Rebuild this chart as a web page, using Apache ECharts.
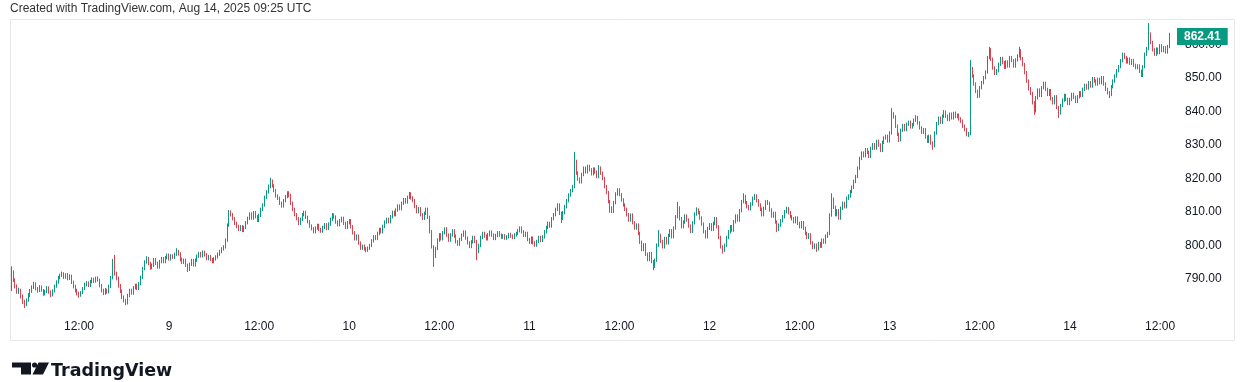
<!DOCTYPE html>
<html>
<head>
<meta charset="utf-8">
<script src="https://cdn.jsdelivr.net/npm/echarts@6/dist/echarts.min.js"></script>
<style>
html,body{margin:0;padding:0;background:#fff;}
#chart{width:1244px;height:382px;}
</style>
</head>
<body>
<div id="chart"></div>
<script>
// ---- data (15-minute candles, Aug 8 03:00 -> Aug 14 13:15, chart time) ----
const firstOpen = 786.5;
const closes = [
791.5,789.0,787.2,785.5,786.0,784.2,782.5,781.8,783.0,784.6,
785.8,786.9,788.0,786.6,785.9,787.1,786.0,784.9,785.7,786.8,
785.5,784.6,785.8,787.2,788.5,789.8,790.4,791.0,789.9,790.6,
789.5,790.3,788.4,787.2,786.0,785.1,784.6,785.3,786.5,787.8,
788.2,787.5,788.6,789.3,788.8,789.6,789.1,787.4,786.0,785.2,
786.1,785.6,787.2,789.8,794.8,791.0,789.6,787.4,785.8,784.0,
783.0,782.4,784.5,786.0,785.2,786.8,787.5,786.6,788.0,789.9,
792.5,794.5,795.6,794.0,792.8,793.5,795.2,794.1,793.0,794.6,
795.5,794.6,795.8,796.5,795.4,796.3,795.9,796.8,797.6,796.9,
795.2,794.4,795.0,793.5,792.3,793.8,794.9,793.6,795.0,796.2,
797.0,796.3,797.4,796.6,795.5,796.1,795.2,794.6,795.4,796.0,
796.8,797.6,798.4,799.0,801.0,805.5,809.4,808.6,807.4,806.0,
805.1,804.2,805.0,803.9,804.8,806.2,807.5,808.8,807.6,809.2,
808.0,806.9,808.4,810.2,811.5,813.8,815.4,817.0,818.6,817.2,
815.8,814.2,813.5,812.0,811.2,812.8,814.0,815.1,814.3,812.0,
810.2,808.6,807.4,806.0,807.2,808.6,809.3,807.8,806.5,805.2,
804.4,803.5,804.6,805.4,804.2,803.7,804.8,805.6,804.5,805.8,
807.2,808.5,807.9,806.4,805.6,806.8,807.5,806.0,804.8,806.2,
806.8,805.0,803.2,801.4,802.2,800.1,798.6,799.2,798.4,797.9,
798.6,799.4,800.8,802.0,801.5,803.0,804.2,803.5,805.1,806.4,
807.2,806.5,808.0,809.3,808.6,810.0,811.2,810.4,812.0,813.1,
812.4,813.8,815.0,813.6,812.8,811.0,809.5,810.4,808.6,807.5,
809.0,810.2,807.8,803.5,799.0,796.2,798.5,801.0,802.6,801.4,
803.2,804.4,802.5,801.0,802.6,803.8,802.2,800.5,799.8,801.2,
802.5,803.4,801.6,800.2,799.1,800.5,801.8,800.6,797.6,799.4,
801.8,803.0,802.2,801.4,802.6,803.4,802.5,801.5,802.4,803.2,
802.5,801.9,802.3,801.6,802.0,802.7,802.2,801.8,802.6,803.0,
803.8,804.6,803.5,802.4,803.0,801.2,800.4,801.6,800.2,799.5,
800.6,801.8,800.9,802.0,803.5,804.8,806.0,805.2,807.4,808.6,
810.2,811.5,809.0,807.5,809.2,811.0,812.8,814.5,815.8,817.0,
824.5,821.0,819.2,818.4,820.6,822.5,821.4,823.0,822.0,820.8,
822.2,821.3,820.0,822.5,821.0,819.4,817.0,815.2,812.5,810.6,
809.6,812.2,814.8,816.0,814.6,813.0,811.5,810.2,808.6,807.0,
808.5,806.2,804.6,805.5,803.0,800.4,798.2,799.6,796.8,795.2,
797.0,794.6,793.2,795.0,799.5,802.4,800.6,799.0,801.5,800.2,
802.4,803.8,802.0,804.6,808.0,810.6,807.4,805.0,806.4,808.2,
807.0,805.2,803.6,806.2,808.8,810.0,809.2,807.6,805.8,803.5,
802.0,804.5,805.6,804.2,806.0,807.4,805.0,801.8,799.0,798.0,
799.5,801.8,803.5,805.0,804.0,806.5,808.2,807.0,809.8,812.5,
814.0,812.2,811.0,810.4,811.8,813.5,814.2,812.8,811.5,810.2,
808.6,810.5,812.4,812.0,810.0,808.2,809.0,806.4,804.2,805.5,
806.8,808.0,809.5,810.4,809.2,808.0,807.4,806.5,807.6,806.0,
805.0,806.2,804.5,803.0,801.8,802.6,800.2,798.8,799.5,798.4,
800.0,799.2,801.0,800.4,802.2,803.0,808.5,813.2,810.8,808.6,
809.8,807.6,810.5,812.0,811.0,813.5,814.2,815.5,816.8,818.5,
820.0,822.5,825.4,827.0,826.2,828.0,827.2,826.0,828.4,829.5,
828.5,830.5,829.4,827.8,830.2,831.5,832.0,830.6,833.0,838.5,
837.8,835.0,832.6,831.0,833.8,835.2,834.0,835.6,836.2,834.8,
835.5,836.8,837.6,836.0,834.5,833.2,834.0,831.8,830.5,832.0,
830.0,829.2,833.0,835.8,837.4,836.2,838.0,839.2,838.0,837.0,
838.6,837.5,838.8,837.9,838.3,837.2,836.5,835.0,834.0,832.5,
832.8,852.2,850.0,847.6,845.4,844.0,846.5,848.0,849.5,851.2,
855.5,857.8,855.0,852.4,850.8,851.6,853.5,855.2,854.0,852.6,
854.2,853.0,855.5,854.6,853.0,854.8,856.0,857.5,855.2,853.4,
851.0,848.5,846.2,844.8,842.0,839.6,843.5,845.8,844.2,846.5,
847.8,846.0,844.5,845.6,843.2,842.0,843.8,840.6,839.0,841.2,
842.8,844.2,843.0,841.8,843.0,844.5,843.6,842.4,843.8,845.0,
844.2,846.0,847.2,846.4,848.0,847.0,849.2,848.5,847.6,849.0,
848.0,849.5,847.6,846.0,845.0,844.5,846.8,848.5,850.0,851.6,
852.8,854.6,856.4,855.5,854.2,855.0,853.8,854.6,853.2,852.5,
853.0,851.4,850.2,852.8,856.5,858.2,862.5,860.0,857.8,856.5,
858.0,857.0,859.0,857.6,858.4,857.2,858.8,862.41
];
const highs = [
793.2,792.0,789.6,787.8,786.8,786.5,784.8,783.2,783.6,785.2,
786.4,787.5,788.6,788.4,787.0,787.6,787.5,786.4,786.2,787.3,
787.2,786.0,786.3,787.7,789.0,790.3,791.0,791.6,791.4,791.1,
791.2,790.8,790.7,788.9,787.7,786.5,785.6,785.8,787.0,788.3,
788.8,788.7,789.1,789.9,789.8,790.1,790.2,789.5,787.9,786.5,
786.7,786.5,787.7,790.3,795.4,796.6,791.6,790.1,787.9,786.3,
784.5,783.5,785.0,786.5,786.5,787.3,788.0,788.0,788.5,790.4,
793.0,795.0,796.2,796.0,794.5,794.0,795.7,795.7,794.6,795.1,
796.0,796.0,796.3,797.0,797.0,796.8,796.8,797.3,798.6,798.1,
797.4,795.8,795.5,795.5,794.0,794.3,795.4,795.4,795.5,796.7,
797.5,797.5,797.9,797.9,797.1,796.6,796.6,795.7,795.9,796.5,
797.3,798.1,798.9,799.5,801.5,806.0,810.0,809.9,809.1,807.9,
806.5,805.6,805.5,805.5,805.3,806.7,808.0,809.3,809.3,809.7,
809.7,808.5,808.9,810.7,812.0,814.3,815.9,817.6,819.6,819.1,
817.7,816.3,814.7,814.0,812.5,813.3,814.5,815.6,815.6,814.8,
812.5,810.7,809.1,807.9,807.7,809.1,809.8,809.8,808.3,807.0,
805.7,804.9,805.1,805.9,805.9,804.7,805.3,806.1,806.1,806.3,
807.7,809.1,809.0,808.4,806.9,807.3,808.0,808.0,806.5,806.7,
807.3,807.3,805.5,803.7,802.7,802.7,800.6,799.7,799.7,798.9,
799.1,799.9,801.3,802.5,802.5,803.5,804.7,804.7,805.6,806.9,
807.7,807.7,808.5,809.8,809.8,810.5,811.7,811.7,812.5,813.6,
813.6,814.3,815.4,815.3,814.1,813.3,811.5,810.9,810.9,809.1,
809.5,810.7,810.7,808.3,804.0,799.5,799.0,801.5,803.1,803.1,
803.7,804.8,804.9,803.0,803.1,804.3,804.3,802.7,801.0,801.7,
803.0,803.9,803.9,802.1,800.7,801.0,802.3,802.3,801.1,799.9,
802.3,803.5,803.5,802.7,803.1,803.9,803.9,803.0,802.9,803.7,
803.7,803.0,802.8,802.8,802.5,803.2,803.2,802.7,803.1,803.5,
804.3,805.1,805.1,804.0,803.5,803.5,801.7,802.1,802.1,800.7,
801.1,802.3,802.3,802.5,804.0,805.3,806.5,806.5,807.9,809.1,
810.7,812.0,812.0,809.5,809.7,811.5,813.3,815.0,816.3,817.5,
827.3,825.0,821.5,819.7,821.1,823.0,823.0,823.5,823.5,822.5,
822.7,822.7,821.8,823.4,823.0,821.5,819.9,817.5,815.7,813.0,
811.1,812.7,815.3,816.5,816.5,815.1,813.5,812.0,810.7,809.1,
809.0,809.0,806.7,806.0,806.0,803.5,800.9,800.1,800.1,797.3,
797.5,797.5,795.1,795.5,800.0,804.0,802.9,801.1,802.0,802.0,
802.9,804.3,804.3,805.1,808.5,812.4,811.1,807.9,806.9,808.7,
808.7,807.5,805.7,806.7,809.3,810.8,810.5,809.7,808.1,806.3,
804.0,805.0,806.1,806.1,806.5,807.9,807.9,805.5,802.3,799.5,
800.0,802.3,804.0,805.5,805.5,807.0,808.7,808.7,810.3,813.0,
815.0,814.5,812.7,811.5,812.3,814.0,814.8,814.7,813.3,812.0,
810.7,811.0,812.9,813.0,812.5,810.5,809.5,809.5,806.9,806.0,
807.3,808.5,810.0,811.0,810.9,809.7,808.5,807.9,808.1,808.1,
806.5,806.7,806.7,805.0,803.5,803.1,803.1,800.7,800.0,800.0,
800.5,800.5,801.5,801.5,802.7,803.5,809.0,815.0,813.7,811.3,
810.3,810.3,811.0,812.5,812.5,814.0,814.7,816.0,817.3,819.0,
820.5,823.0,825.9,827.5,827.5,828.5,828.5,827.7,828.9,830.0,
830.0,831.0,831.0,829.9,830.7,832.0,832.5,832.5,833.5,840.4,
839.2,838.3,835.5,833.1,834.3,835.7,835.7,836.1,836.7,836.7,
836.0,837.3,838.3,838.1,836.5,835.0,834.5,834.5,832.3,832.5,
832.5,830.5,833.5,836.3,837.9,837.9,838.5,839.8,839.7,838.5,
839.1,839.1,839.3,839.4,838.8,838.8,837.7,837.0,835.5,834.5,
833.3,854.8,852.7,850.5,848.1,845.9,847.0,848.5,850.0,851.7,
856.0,858.7,858.3,855.5,852.9,852.1,854.0,855.7,855.7,854.5,
854.7,854.7,856.0,856.0,855.1,855.3,856.5,858.7,858.0,855.7,
853.9,851.5,849.0,846.7,845.3,842.5,844.0,846.3,846.3,847.0,
848.3,848.3,846.5,846.1,846.1,843.7,844.3,844.3,841.1,841.7,
843.3,844.7,844.7,843.5,843.5,845.0,845.0,844.1,844.3,845.5,
845.5,846.5,847.7,847.7,848.5,848.5,849.7,849.7,849.0,849.5,
849.5,850.0,850.0,848.1,846.5,845.5,847.3,849.0,850.5,852.1,
853.3,855.1,857.0,856.9,856.0,855.5,855.5,855.1,855.1,853.7,
853.5,853.5,851.9,853.3,857.0,858.7,865.8,863.0,860.5,858.3,
858.5,858.5,859.5,859.5,858.9,858.9,859.3,862.9
];
const lows = [
785.8,788.5,786.6,785.0,784.9,783.6,781.9,780.7,781.3,782.6,
784.0,785.3,786.4,786.0,785.3,785.5,785.6,784.4,784.5,785.2,
785.0,784.0,784.2,785.4,786.8,788.0,789.3,790.0,789.4,789.5,
789.0,789.1,787.9,786.6,785.4,784.5,783.8,784.1,784.9,786.1,
787.2,787.0,787.0,788.1,788.2,788.3,788.6,786.9,785.4,784.6,
784.7,785.0,785.1,786.7,789.3,790.4,789.0,786.8,785.2,783.4,
782.4,781.6,781.8,784.0,784.7,784.7,786.3,786.1,786.1,787.5,
789.4,792.0,794.0,793.5,792.2,792.3,793.0,793.6,792.5,792.5,
794.1,794.1,794.1,795.3,794.9,794.9,795.4,795.4,796.3,796.4,
794.7,793.9,793.9,793.0,791.5,791.8,793.3,793.1,793.1,794.5,
795.7,795.8,795.8,796.1,795.0,795.0,794.7,794.1,794.1,794.9,
795.5,796.3,797.1,797.9,798.5,800.5,805.0,808.1,806.9,805.5,
804.6,803.7,803.7,803.4,803.4,804.3,805.7,807.0,807.1,807.1,
807.5,806.4,806.4,807.9,809.7,811.0,813.3,814.9,816.5,816.7,
815.3,813.7,813.0,811.5,810.7,810.7,812.3,813.5,813.8,811.5,
809.7,808.1,806.9,805.5,805.5,806.7,808.1,807.3,806.0,804.7,
803.9,803.0,803.0,804.1,803.7,803.2,803.2,804.3,804.0,804.0,
805.3,806.7,807.4,805.9,805.1,805.1,806.3,805.5,804.3,804.3,
805.7,804.5,802.7,800.9,800.9,799.6,798.1,798.1,797.9,797.4,
797.5,798.1,798.9,800.3,801.0,801.0,802.5,803.0,803.0,804.6,
805.9,806.0,806.0,807.5,808.1,808.1,809.5,809.9,809.9,811.5,
811.9,811.9,813.3,813.1,812.3,810.5,809.0,809.0,808.1,807.0,
807.0,808.5,807.3,803.0,798.5,793.0,795.7,798.0,800.5,800.9,
800.9,802.7,802.0,800.5,800.5,802.1,801.7,800.0,799.3,799.3,
800.7,802.0,801.1,799.7,798.6,798.6,800.0,800.1,795.0,797.1,
798.9,801.3,801.7,800.9,800.9,802.1,802.0,801.0,801.0,801.9,
802.0,801.4,801.4,801.1,801.1,801.5,801.7,801.3,801.3,802.1,
802.5,803.3,803.0,801.9,801.9,800.7,799.9,799.9,799.7,799.0,
799.0,800.1,800.4,800.4,801.5,803.0,804.3,804.7,804.7,806.9,
808.1,809.7,808.5,806.1,807.0,808.7,810.5,812.3,814.0,815.3,
816.5,820.5,818.7,817.9,817.9,820.1,820.9,820.9,821.5,820.3,
820.3,820.8,819.5,819.5,820.5,818.9,816.5,814.7,812.0,809.2,
809.1,809.1,811.7,814.3,814.1,812.5,811.0,809.7,808.1,806.5,
806.5,805.7,804.1,804.1,802.5,799.9,797.7,797.7,796.3,794.7,
794.7,794.1,792.0,792.7,794.5,799.0,800.1,798.5,798.5,799.7,
799.7,801.9,801.5,801.5,804.1,807.5,806.9,804.5,804.5,805.9,
806.5,804.7,803.1,803.1,805.7,808.3,808.7,807.1,805.3,803.0,
801.5,801.5,804.0,803.7,803.7,805.5,804.5,801.3,798.5,797.0,
797.5,799.0,801.3,803.0,803.5,803.5,806.0,806.5,806.5,809.3,
812.0,811.7,810.5,809.9,809.9,811.3,813.0,812.3,811.0,809.7,
808.1,808.1,810.0,811.5,809.5,807.7,807.7,805.9,803.4,803.7,
805.0,806.3,807.5,809.0,808.7,807.5,806.9,806.0,806.0,805.5,
804.5,804.5,804.0,802.5,801.3,801.3,799.7,798.3,798.3,797.5,
797.9,798.7,798.7,799.9,799.9,801.7,802.5,808.0,810.3,808.1,
808.1,807.1,807.1,810.0,810.5,810.5,813.0,813.7,815.0,816.3,
818.0,819.5,822.0,824.9,825.7,825.7,826.7,825.5,825.5,827.9,
828.0,828.0,828.9,827.3,827.3,829.7,831.0,830.1,830.1,832.5,
837.3,834.5,832.1,830.3,830.5,833.3,833.5,833.5,835.1,834.3,
834.3,835.0,836.3,835.5,834.0,832.7,832.7,831.3,830.0,830.0,
829.5,828.0,828.7,832.5,835.3,835.7,835.7,837.5,837.5,836.5,
836.5,837.0,837.0,837.4,837.4,836.7,836.0,834.5,833.5,832.0,
831.8,832.3,849.5,847.1,844.9,843.4,843.5,846.0,847.5,849.0,
850.7,855.0,854.5,851.9,850.3,850.3,851.1,853.0,853.5,852.1,
852.1,852.5,852.5,854.1,852.5,852.5,854.3,855.5,854.7,852.9,
850.5,848.0,845.7,844.3,841.5,838.4,839.1,843.0,843.7,843.7,
846.0,845.5,844.0,844.0,842.7,841.5,841.5,840.1,837.5,838.5,
840.7,842.3,842.5,841.3,841.3,842.5,843.1,841.9,841.9,843.3,
843.7,843.7,845.5,845.9,845.9,846.5,846.5,848.0,847.1,847.1,
847.5,847.5,847.1,845.5,844.5,843.4,844.0,846.3,848.0,849.5,
851.1,852.3,854.1,855.0,853.7,853.7,853.3,853.3,852.7,852.0,
852.0,850.9,849.7,849.7,852.3,856.0,857.7,859.5,857.3,856.0,
856.0,856.5,856.5,857.1,857.1,856.7,856.7,858.3
];
// time axis: first candle time, candle length, empty slots to the right
const startTimeUTC = Date.UTC(2025, 7, 8, 3, 0);
const stepMinutes = 15;
const padSlots = 3;
const labelHours = [0, 12];        // 00:00 -> day number, 12:00 -> "12:00"
// price axis
const yMin = 780, yMax = 870, yStep = 10;
const lastPrice = closes[closes.length - 1];

// ---- build ----
const opens = [firstOpen].concat(closes.slice(0, -1));
const candleData = closes.map((c, i) => [opens[i], c, lows[i], highs[i]]);
const categories = [];
for (let i = 0; i < closes.length + padSlots; i++) {
  categories.push(String(startTimeUTC + i * stepMinutes * 60000));
}
function isLabelTime(v) {
  const d = new Date(+v);
  return d.getUTCMinutes() === 0 && labelHours.indexOf(d.getUTCHours()) >= 0;
}
const FONT = '"Liberation Sans", Arial, sans-serif';
const UP = '#089981', DOWN = '#d9434f';

const chart = echarts.init(document.getElementById('chart'), null, {renderer: 'canvas'});
chart.setOption({
  animation: false,
  backgroundColor: '#ffffff',
  grid: {left: 10.5, right: 68, top: 9, bottom: 71.5, containLabel: false},
  xAxis: {
    type: 'category',
    data: categories,
    boundaryGap: true,
    axisLine: {show: false},
    axisTick: {show: false},
    splitLine: {show: false},
    axisLabel: {
      interval: (idx, v) => isLabelTime(v),
      formatter: v => {
        const d = new Date(+v);
        return d.getUTCHours() === 0 ? String(d.getUTCDate()) : '12:00';
      },
      color: '#131722', fontSize: 12, fontFamily: FONT, margin: 10, hideOverlap: false
    }
  },
  yAxis: {
    type: 'value',
    position: 'right',
    min: yMin, max: yMax, interval: yStep,
    scale: true,
    axisLine: {show: false},
    axisTick: {show: false},
    splitLine: {show: false},
    axisLabel: {
      showMinLabel: false, showMaxLabel: false,
      formatter: v => '{p|' + v.toFixed(2) + '}',
      rich: {p: {padding: [4, 0, 0, 0], color: '#131722', fontSize: 12, fontFamily: FONT}},
      color: '#131722', fontSize: 12, fontFamily: FONT, margin: 9
    }
  },
  series: [{
    type: 'candlestick',
    data: candleData,
    large: false,
    barWidth: 1,
    itemStyle: {color: UP, color0: DOWN, borderColor: UP, borderColor0: DOWN, borderWidth: 1},
    markLine: {
      silent: true, animation: false,
      symbol: ['none', 'none'],
      lineStyle: {color: 'rgba(0,0,0,0)', width: 0},
      data: [{yAxis: lastPrice}],
      label: {
        show: true, position: 'end', distance: 1, offset: [0, 2],
        formatter: lastPrice.toFixed(2),
        color: '#ffffff', backgroundColor: UP,
        padding: [3, 7, 2, 7], fontSize: 12, fontWeight: 'bold', fontFamily: FONT
      }
    }
  }],
  graphic: [
    {type: 'rect', shape: {x: 10.5, y: 19.5, width: 1224, height: 321}, silent: true,
     style: {fill: 'none', stroke: '#e6e7ea', lineWidth: 1}, z: -1},
    {type: 'text', left: 10, top: 3, silent: true,
     style: {text: 'Created with TradingView.com, Aug 14, 2025 09:25 UTC', fill: '#333333',
             font: '12px ' + FONT}},
    // TradingView logo mark
    {type: 'polygon', silent: true, shape: {points: [[12,362.5],[31,362.5],[31,374.5],[21,374.5],[21,367.5],[12,367.5]]},
     style: {fill: '#131722'}},
    {type: 'circle', silent: true, shape: {cx: 34.6, cy: 365, r: 2.6}, style: {fill: '#131722'}},
    {type: 'polygon', silent: true, shape: {points: [[38.5,362.5],[49,362.5],[43,374.5],[32.5,374.5]]},
     style: {fill: '#131722'}},
    {type: 'text', left: 51, top: 362, silent: true,
     style: {text: 'TradingView', fill: '#131722', font: 'bold 17.5px "DejaVu Sans", sans-serif'}}
  ]
});
</script>
</body>
</html>
